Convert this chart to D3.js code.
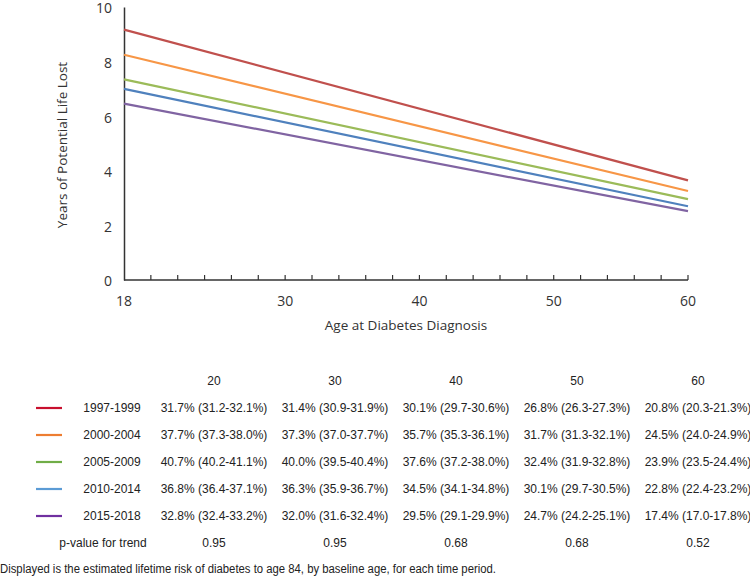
<!DOCTYPE html>
<html>
<head>
<meta charset="utf-8">
<script src="https://cdn.jsdelivr.net/npm/d3@7"></script>
<style>
  body { margin: 0; background: #fff; }
  svg { display: block; }
</style>
</head>
<body>
<div id="chart"></div>
<script>
// years of potential life lost, by age at diagnosis (18 and 60)
const ages = [18, 60];
const periods = ['1997-1999', '2000-2004', '2005-2009', '2010-2014', '2015-2018'];
const ypll1997 = [9.17, 3.65];
const ypll2000 = [8.25, 3.26];
const ypll2005 = [7.35, 2.96];
const ypll2010 = [7.0, 2.70];
const ypll2015 = [6.46, 2.52];
const lineColors = ['#C0504D', '#F79646', '#9BBB59', '#4F81BD', '#8064A2'];
const legendColors = ['#C8102E', '#ED7D31', '#70AD47', '#5B9BD5', '#7030A0'];

// lifetime risk table
const baseAges = ['20', '30', '40', '50', '60'];
const risk1997 = ['31.7% (31.2-32.1%)', '31.4% (30.9-31.9%)', '30.1% (29.7-30.6%)', '26.8% (26.3-27.3%)', '20.8% (20.3-21.3%)'];
const risk2000 = ['37.7% (37.3-38.0%)', '37.3% (37.0-37.7%)', '35.7% (35.3-36.1%)', '31.7% (31.3-32.1%)', '24.5% (24.0-24.9%)'];
const risk2005 = ['40.7% (40.2-41.1%)', '40.0% (39.5-40.4%)', '37.6% (37.2-38.0%)', '32.4% (31.9-32.8%)', '23.9% (23.5-24.4%)'];
const risk2010 = ['36.8% (36.4-37.1%)', '36.3% (35.9-36.7%)', '34.5% (34.1-34.8%)', '30.1% (29.7-30.5%)', '22.8% (22.4-23.2%)'];
const risk2015 = ['32.8% (32.4-33.2%)', '32.0% (31.6-32.4%)', '29.5% (29.1-29.9%)', '24.7% (24.2-25.1%)', '17.4% (17.0-17.8%)'];
const pTrend = ['0.95', '0.95', '0.68', '0.68', '0.52'];

const series = [ypll1997, ypll2000, ypll2005, ypll2010, ypll2015];
const riskRows = [risk1997, risk2000, risk2005, risk2010, risk2015];

var width = 750, height = 577;
var svg = d3.select('#chart').append('svg')
  .attr('width', width)
  .attr('height', height);

var chartFont = "'Open Sans', sans-serif";
var tableFont = "'Liberation Sans', Arial, sans-serif";

var x = d3.scaleLinear().domain([18, 60]).range([124, 688]);
var y = d3.scaleLinear().domain([0, 10]).range([280, 7]);

// x axis line + minor ticks every 2 years (pointing up)
svg.append('line')
  .attr('x1', x(18))
  .attr('x2', x(60))
  .attr('y1', y(0))
  .attr('y2', y(0))
  .attr('stroke', '#333')
  .attr('stroke-width', 1.5);

svg.append('g').selectAll('line')
  .data(d3.range(20, 61, 2))
  .enter()
  .append('line')
  .attr('x1', function(d) { return x(d); })
  .attr('x2', function(d) { return x(d); })
  .attr('y1', y(0))
  .attr('y2', y(0) - 5)
  .attr('stroke', '#333')
  .attr('stroke-width', 1.2);

svg.append('g').selectAll('text')
  .data([18, 30, 40, 50, 60])
  .enter()
  .append('text')
  .attr('x', function(d) { return x(d); })
  .attr('y', 306)
  .attr('text-anchor', 'middle')
  .attr('font-family', chartFont)
  .attr('font-size', 14)
  .attr('fill', '#333')
  .text(function(d) { return d; });

// y axis
var yAxis = svg.append('g')
  .attr('transform', 'translate(' + x(18) + ',0)')
  .call(d3.axisLeft(y).tickValues([0, 2, 4, 6, 8, 10]).tickSize(0).tickPadding(12));
yAxis.select('.domain').attr('stroke', '#333').attr('stroke-width', 1.5);
yAxis.selectAll('text')
  .attr('font-family', chartFont)
  .attr('font-size', 14)
  .attr('dy', '0.42em')
  .attr('fill', '#333');

svg.append('text')
  .attr('transform', 'translate(67,' + 145 + ') rotate(-90)')
  .attr('text-anchor', 'middle')
  .attr('font-family', chartFont)
  .attr('font-size', 13.5)
  .attr('fill', '#333')
  .text('Years of Potential Life Lost');

svg.append('text')
  .attr('x', 406)
  .attr('y', 330)
  .attr('text-anchor', 'middle')
  .attr('font-family', chartFont)
  .attr('font-size', 13.5)
  .attr('fill', '#333')
  .text('Age at Diabetes Diagnosis');

// lines
var line = d3.line()
  .x(function(d, i) { return x(ages[i]); })
  .y(function(d) { return y(d); });

svg.append('g').selectAll('path')
  .data(series)
  .enter()
  .append('path')
  .attr('d', line)
  .attr('fill', 'none')
  .attr('stroke', function(d, i) { return lineColors[i]; })
  .attr('stroke-width', 2.2);

// table
var colX = d3.scalePoint().domain(baseAges).range([214, 698]);
var rowY = d3.scalePoint().domain(d3.range(7)).range([385, 547]);

var table = svg.append('g')
  .attr('font-family', tableFont)
  .attr('font-size', 12)
  .attr('fill', '#222');

table.selectAll('.head')
  .data(baseAges)
  .enter()
  .append('text')
  .attr('class', 'head')
  .attr('x', function(d) { return colX(d); })
  .attr('y', rowY(0))
  .attr('text-anchor', 'middle')
  .text(function(d) { return d; });

var rows = table.selectAll('.row')
  .data(riskRows)
  .enter()
  .append('g')
  .attr('class', 'row')
  .attr('transform', function(d, i) { return 'translate(0,' + rowY(i + 1) + ')'; });

rows.append('line')
  .attr('x1', 36)
  .attr('x2', 62)
  .attr('y1', -4)
  .attr('y2', -4)
  .attr('stroke', function(d, i) { return legendColors[i]; })
  .attr('stroke-width', 2.2);

rows.append('text')
  .attr('x', 112)
  .attr('text-anchor', 'middle')
  .text(function(d, i) { return periods[i]; });

rows.selectAll('.cell')
  .data(function(d) { return d; })
  .enter()
  .append('text')
  .attr('class', 'cell')
  .attr('x', function(d, j) { return colX(baseAges[j]); })
  .attr('text-anchor', 'middle')
  .text(function(d) { return d; });

var pRow = table.append('g')
  .attr('transform', 'translate(0,' + rowY(6) + ')');
pRow.append('text')
  .attr('x', 103)
  .attr('text-anchor', 'middle')
  .text('p-value for trend');
pRow.selectAll('.p')
  .data(pTrend)
  .enter()
  .append('text')
  .attr('x', function(d, j) { return colX(baseAges[j]); })
  .attr('text-anchor', 'middle')
  .text(function(d) { return d; });

svg.append('text')
  .attr('x', 0)
  .attr('y', 573)
  .attr('font-family', "'Liberation Sans Narrow', 'Liberation Sans', Arial, sans-serif")
  .attr('font-size', 12)
  .attr('fill', '#222')
  .attr('textLength', 496)
  .attr('lengthAdjust', 'spacingAndGlyphs')
  .text('Displayed is the estimated lifetime risk of diabetes to age 84, by baseline age, for each time period.');
</script>
</body>
</html>
